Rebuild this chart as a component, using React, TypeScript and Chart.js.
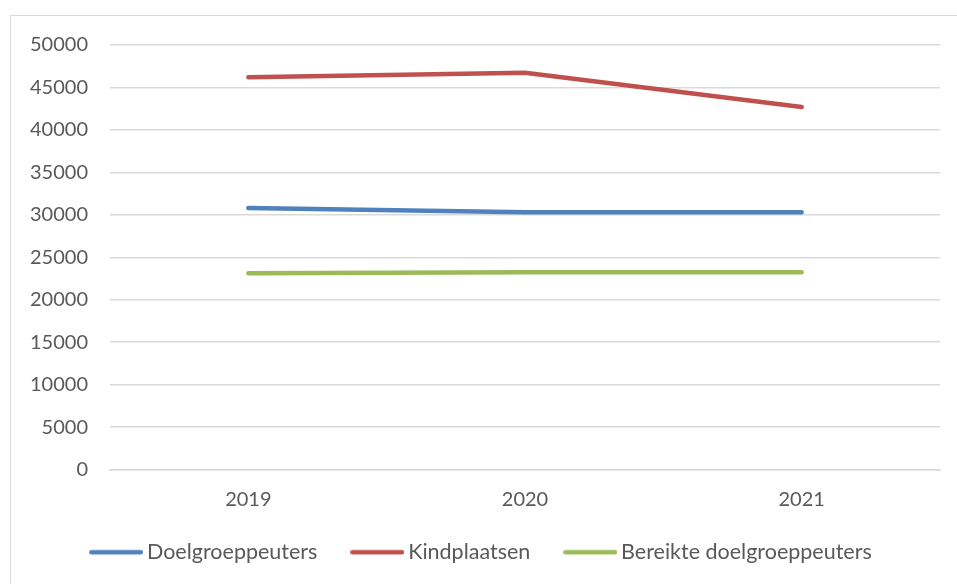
import React, { useEffect, useRef } from "react";
import { Chart, registerables } from "chart.js";

Chart.register(...registerables);

const categories = ["2019", "2020", "2021"];
const doelgroeppeuters = [30810, 30290, 30290];
const kindplaatsen = [46210, 46720, 42690];
const bereikteDoelgroeppeuters = [23120, 23240, 23240];
const seriesNames = ["Doelgroeppeuters", "Kindplaatsen", "Bereikte doelgroeppeuters"];
const seriesColors = ["#4F81BD", "#C0504D", "#9BBB59"];
const yMin = 0;
const yMax = 50000;
const yStep = 5000;

const FONT = "Lato, 'Liberation Sans', sans-serif";
const TEXT = "#595959";
const GRID = "#D9D9D9";
const LINE_W = 4.5;

function legendSwatch(color: string): HTMLCanvasElement {
  const c = document.createElement("canvas");
  c.width = 54;
  c.height = 8;
  const g = c.getContext("2d");
  if (g) {
    g.strokeStyle = color;
    g.lineWidth = LINE_W;
    g.lineCap = "round";
    g.beginPath();
    g.moveTo(LINE_W / 2, 4);
    g.lineTo(54 - LINE_W / 2, 4);
    g.stroke();
  }
  return c;
}

export default function App() {
  const ref = useRef<HTMLCanvasElement | null>(null);

  useEffect(() => {
    document.body.style.margin = "0";
    const ctx = ref.current;
    if (!ctx) return;
    const mk = (label: string, data: number[], color: string) => ({
      label,
      data,
      borderColor: color,
      backgroundColor: color,
      borderWidth: LINE_W,
      borderCapStyle: "round" as const,
      borderJoinStyle: "round" as const,
      pointRadius: 0,
      pointHoverRadius: 0,
      pointStyle: legendSwatch(color),
      tension: 0,
      fill: false,
    });
    const chart = new Chart(ctx, {
      type: "line",
      data: {
        labels: categories,
        datasets: [
          mk(seriesNames[0], doelgroeppeuters, seriesColors[0]),
          mk(seriesNames[1], kindplaatsen, seriesColors[1]),
          mk(seriesNames[2], bereikteDoelgroeppeuters, seriesColors[2]),
        ],
      },
      options: {
        animation: false,
        responsive: false,
        maintainAspectRatio: false,
        layout: { padding: { left: 28, top: 45, right: 17, bottom: 11 } },
        plugins: {
          tooltip: { enabled: false },
          legend: {
            position: "bottom",
            labels: {
              usePointStyle: true,
              pointStyleWidth: 40,
              boxHeight: 10,
              padding: 40,
              color: TEXT,
              font: { family: FONT, size: 21.5 },
            },
          },
        },
        scales: {
          x: {
            offset: true,
            grid: { display: false, drawTicks: false },
            border: { display: true, color: GRID, width: 1.5 },
            ticks: { color: TEXT, font: { family: FONT, size: 20 }, padding: -42, mirror: true },
            afterFit: (s: any) => {
              s.height = 32;
            },
          },
          y: {
            min: yMin,
            max: yMax,
            grid: { color: GRID, lineWidth: 1.5, drawTicks: false },
            border: { display: false },
            ticks: {
              stepSize: yStep,
              color: TEXT,
              font: { family: FONT, size: 20 },
              padding: 22,
              callback: (v: any) => String(v),
            },
            afterFit: (s: any) => {
              s.width = 82;
            },
          },
        },
      },
    });
    return () => chart.destroy();
  }, []);

  return (
    <div style={{ position: "relative", width: 957, height: 584, overflow: "hidden", background: "#fff" }}>
      <div
        style={{
          position: "absolute",
          left: 10,
          top: 15,
          width: 980,
          height: 600,
          border: "1.5px solid #D9D9D9",
        }}
      />
      <canvas ref={ref} width={957} height={584} style={{ position: "absolute", left: 0, top: 0 }} />
    </div>
  );
}
